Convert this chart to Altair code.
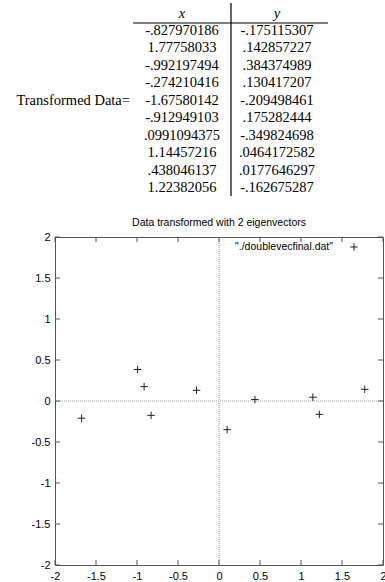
import altair as alt
import pandas as pd

# ---- data (as printed in the table) ----
x_strings = ["-.827970186", "1.77758033", "-.992197494", "-.274210416", "-1.67580142",
             "-.912949103", ".0991094375", "1.14457216", ".438046137", "1.22382056"]
y_strings = ["-.175115307", ".142857227", ".384374989", ".130417207", "-.209498461",
             ".175282444", "-.349824698", ".0464172582", ".0177646297", "-.162675287"]
x_vals = [float(s) for s in x_strings]
y_vals = [float(s) for s in y_strings]

tick_values = [-2, -1.5, -1, -0.5, 0, 0.5, 1, 1.5, 2]
title_text = "Data transformed with 2 eigenvectors"
legend_text = '"./doublevecfinal.dat"'
table_label = "Transformed Data="
header_x = "x"
header_y = "y"

W, H = 328, 328
SANS = "Liberation Sans"
SERIF = "Liberation Serif"
PLUS = "M-1,0L1,0M0,-1L0,1"

xs = alt.Scale(domain=[-2, 2], nice=False, zero=False)
ys = alt.Scale(domain=[-2, 2], nice=False, zero=False)

ax_common = dict(values=tick_values, tickSize=0, domain=False, grid=False,
                 labelFont=SANS, labelFontSize=11, labelColor="#000",
                 labelFlush=False, labelOverlap=False, title=None,
                 labelExpr="datum.value + ''")
xaxis = alt.Axis(labelPadding=5, **ax_common)
yaxis = alt.Axis(labelPadding=5, **ax_common)

pts = pd.DataFrame({"x": x_vals, "y": y_vals})
ticks = pd.DataFrame({"t": tick_values})
table = pd.DataFrame({"row": list(range(len(x_strings))), "xs": x_strings, "ys": y_strings})
one = pd.DataFrame({"k": [0]})

# zero axes (dotted)
zero_v = alt.Chart(one).mark_rule(color="#999", strokeDash=[1, 1], strokeWidth=1).encode(
    x=alt.XDatum(0, scale=xs, axis=xaxis))
zero_h = alt.Chart(one).mark_rule(color="#999", strokeDash=[1, 1], strokeWidth=1).encode(
    y=alt.YDatum(0, scale=ys, axis=None))

tick_color = "#555"
tb = alt.Chart(ticks).mark_rule(color=tick_color).encode(
    x=alt.X("t:Q", scale=xs, axis=xaxis), y=alt.value(H), y2=alt.value(H - 5))
tt = alt.Chart(ticks).mark_rule(color=tick_color).encode(
    x=alt.X("t:Q", scale=xs, axis=xaxis), y=alt.value(0), y2=alt.value(5))
tl = alt.Chart(ticks).mark_rule(color=tick_color).encode(
    y=alt.Y("t:Q", scale=ys, axis=None), x=alt.value(0), x2=alt.value(5))
tr = alt.Chart(ticks).mark_rule(color=tick_color).encode(
    y=alt.Y("t:Q", scale=ys, axis=None), x=alt.value(W), x2=alt.value(W - 5))

points = alt.Chart(pts).mark_point(shape=PLUS, size=56, filled=False, color="#222",
                                   strokeWidth=1, opacity=1).encode(
    x=alt.X("x:Q", scale=xs, axis=xaxis),
    y=alt.Y("y:Q", scale=ys, axis=yaxis))

title = alt.Chart(one).mark_text(text=title_text, font=SANS, fontSize=10.5,
                                 align="center", baseline="middle", color="#000").encode(
    x=alt.value(W / 2), y=alt.value(-14))

leg_text = alt.Chart(one).mark_text(text=legend_text, font=SANS, fontSize=10.5,
                                    align="right", baseline="middle", color="#000").encode(
    x=alt.value(278), y=alt.value(10))
leg_sym = alt.Chart(one).mark_point(shape=PLUS, size=56, filled=False, color="#222",
                                    strokeWidth=1, opacity=1).encode(
    x=alt.value(299), y=alt.value(10))

# ---- table above the plot ----
row_scale = alt.Scale(domain=[0, 9], range=[31 - 237, 188 - 237], nice=False, zero=False)
tx = alt.Chart(table).mark_text(font=SERIF, fontSize=14.5, align="center",
                                baseline="middle", color="#000").encode(
    y=alt.Y("row:Q", scale=row_scale, axis=None), x=alt.value(127), text="xs:N")
ty = alt.Chart(table).mark_text(font=SERIF, fontSize=14.5, align="center",
                                baseline="middle", color="#000").encode(
    y=alt.Y("row:Q", scale=row_scale, axis=None), x=alt.value(222), text="ys:N")
hx = alt.Chart(one).mark_text(text=header_x, font=SERIF, fontSize=14.5, fontStyle="italic",
                              align="center", baseline="middle", color="#000").encode(
    x=alt.value(127), y=alt.value(-223))
hy = alt.Chart(one).mark_text(text=header_y, font=SERIF, fontSize=14.5, fontStyle="italic",
                              align="center", baseline="middle", color="#000").encode(
    x=alt.value(222), y=alt.value(-223))
lab = alt.Chart(one).mark_text(text=table_label, font=SERIF, fontSize=14.5,
                               align="right", baseline="middle", color="#000").encode(
    x=alt.value(75), y=alt.value(-136))
hline = alt.Chart(one).mark_rule(color="#000", strokeWidth=1.2).encode(
    x=alt.value(78), x2=alt.value(273), y=alt.value(-214))
vline = alt.Chart(one).mark_rule(color="#000", strokeWidth=1.2).encode(
    x=alt.value(176), y=alt.value(-234), y2=alt.value(-41))

chart = alt.layer(
    zero_v, zero_h, tb, tt, tl, tr, points, title, leg_text, leg_sym,
    tx, ty, hx, hy, lab, hline, vline
).resolve_scale(y="independent").properties(
    width=W, height=H,
    padding={"left": 55, "top": 237, "right": 2, "bottom": 17},
    autosize="none", background="white"
).configure_view(stroke="#555", strokeWidth=1)

chart.save("out.html", embed_options={"renderer": "svg", "actions": False})
